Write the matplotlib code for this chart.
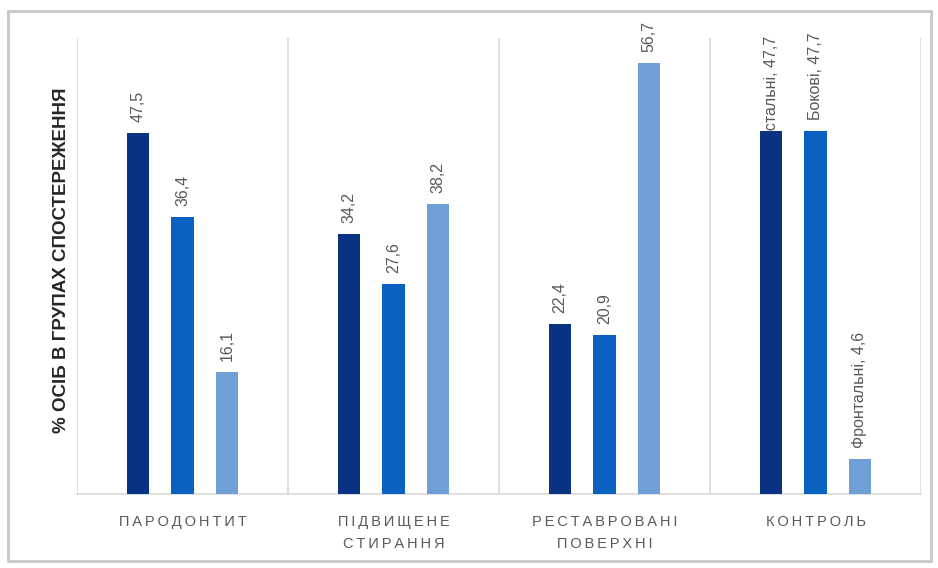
import matplotlib
matplotlib.use("Agg")
import matplotlib.pyplot as plt
from matplotlib.patches import Rectangle
from matplotlib.transforms import Bbox, TransformedBbox
import numpy as np

plt.rcParams['font.family'] = ['Liberation Sans', 'DejaVu Sans']

categories = [["ПАРОДОНТИТ"], ["ПІДВИЩЕНЕ", "СТИРАННЯ"],
              ["РЕСТАВРОВАНІ", "ПОВЕРХНІ"], ["КОНТРОЛЬ"]]
series_names = ["Дистальні", "Бокові", "Фронтальні"]
dark_vals = [47.5, 34.2, 22.4, 47.7]
mid_vals = [36.4, 27.6, 20.9, 47.7]
light_vals = [16.1, 38.2, 56.7, 4.6]
ylabel = "% ОСІБ В ГРУПАХ СПОСТЕРЕЖЕННЯ"

colors = ["#0a3282", "#0a62c0", "#6f9fd6"]
label_color = "#595959"
grid_color = "#d9d9d9"
label_size = 11.5

W, H = 938, 568
fig = plt.figure(figsize=(W / 100, H / 100), dpi=100)
ax = fig.add_axes([77 / W, 1 - 494 / H, (921 - 77) / W, (494 - 38) / H])
renderer = fig.canvas.get_renderer()

# labels may run above the axes, but stay inside the chart area
label_clip = TransformedBbox(Bbox([[0, 0], [1, 1 - 18 / H]]), fig.transFigure)

x = np.arange(len(categories))
offsets = [-0.21, 0.0, 0.21]
width = 0.105
all_vals = [dark_vals, mid_vals, light_vals]


def fmt(v):
    return f"{v:.1f}".replace(".", ",")


def text_len_pt(s):
    t = fig.text(0, 0, s, fontsize=label_size)
    w = t.get_window_extent(renderer).width * 72 / fig.dpi
    t.remove()
    return w


for i, (vals, col) in enumerate(zip(all_vals, colors)):
    ax.bar(x + offsets[i], vals, width=width, color=col, zorder=4)
    for j, v in enumerate(vals):
        txt = fmt(v)
        gap = 8
        if j == len(categories) - 1:
            txt = f"{series_names[i]}, {txt}"
            if i == 0:
                # the long first-series label starts behind its bar
                gap = 1 - text_len_pt("Ди")
        t = ax.annotate(txt, (x[j] + offsets[i], v), xytext=(0, gap),
                        textcoords="offset points", rotation=90,
                        ha="center", va="bottom", fontsize=label_size,
                        color=label_color, annotation_clip=False, zorder=3)
        t.set_clip_box(label_clip)
        t.set_clip_on(True)

ax.set_xlim(-0.5, len(categories) - 0.5)
ax.set_ylim(0, 60)

# group separators
for b in np.arange(-0.5, len(categories), 1.0):
    ax.axvline(b, color=grid_color, lw=1.2, zorder=1)

for s in ["top", "left", "right"]:
    ax.spines[s].set_visible(False)
ax.spines["bottom"].set_color(grid_color)
ax.spines["bottom"].set_linewidth(1.2)
ax.set_yticks([])
ax.set_xticks(x)
spaced = ["\n".join("\u2009".join(w) for w in c) for c in categories]
ax.set_xticklabels(spaced, fontsize=10.5, color=label_color, linespacing=1.75)
ax.tick_params(axis="x", length=0, pad=15)

fig.text(62 / W, 1 - 260 / H, ylabel, rotation=90, ha="center",
         va="center", fontsize=13.5, fontweight="bold", color="#262626")

fig.patches.append(Rectangle((8 / W, 1 - 561 / H), 923 / W, 550 / H,
                             transform=fig.transFigure, fill=False,
                             edgecolor="#c8c8c8", lw=2))

fig.savefig("out.png", dpi=100)
